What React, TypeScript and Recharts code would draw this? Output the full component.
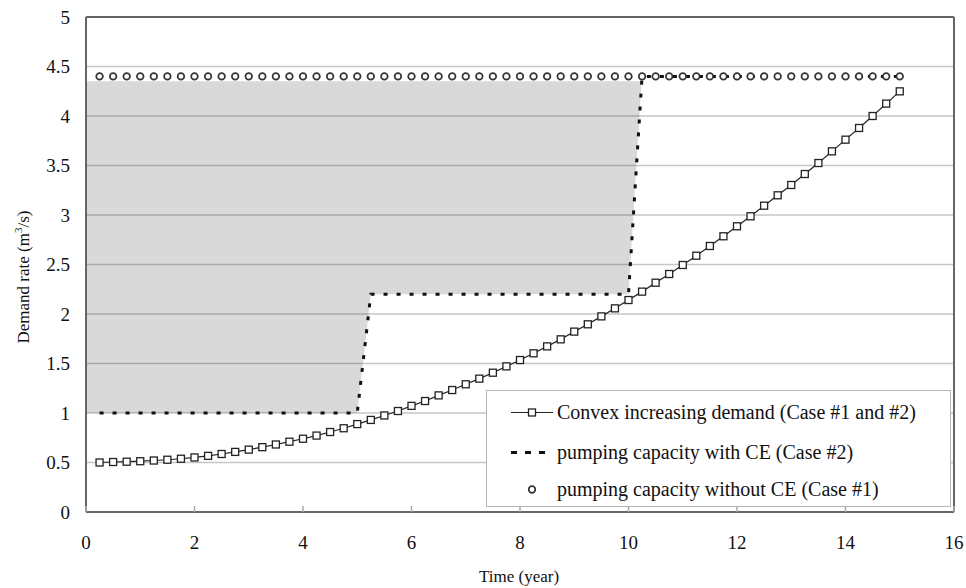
import { ComposedChart, Line, Area, XAxis, YAxis, CartesianGrid, ReferenceLine } from "recharts";

// demand curve, read every 0.25 year
const years = [
  0.25, 0.5, 0.75, 1, 1.25, 1.5, 1.75, 2, 2.25, 2.5, 2.75, 3, 3.25, 3.5, 3.75, 4, 4.25, 4.5, 4.75, 5,
  5.25, 5.5, 5.75, 6, 6.25, 6.5, 6.75, 7, 7.25, 7.5, 7.75, 8, 8.25, 8.5, 8.75, 9, 9.25, 9.5, 9.75, 10,
  10.25, 10.5, 10.75, 11, 11.25, 11.5, 11.75, 12, 12.25, 12.5, 12.75, 13, 13.25, 13.5, 13.75, 14, 14.25, 14.5, 14.75, 15,
];
const demand = [
  0.5, 0.505, 0.508, 0.513, 0.52, 0.528, 0.538, 0.551, 0.567, 0.586, 0.607, 0.63, 0.655, 0.682, 0.71, 0.74, 0.772, 0.808, 0.846, 0.888,
  0.93, 0.975, 1.02, 1.072, 1.121, 1.178, 1.232, 1.29, 1.347, 1.407, 1.471, 1.535, 1.603, 1.673, 1.744, 1.822, 1.896, 1.976, 2.057, 2.141,
  2.226, 2.316, 2.404, 2.495, 2.589, 2.687, 2.785, 2.886, 2.987, 3.094, 3.199, 3.303, 3.414, 3.525, 3.643, 3.761, 3.879, 4.0, 4.125, 4.249,
];
const capacityNoCE = [
  4.4, 4.4, 4.4, 4.4, 4.4, 4.4, 4.4, 4.4, 4.4, 4.4, 4.4, 4.4, 4.4, 4.4, 4.4, 4.4, 4.4, 4.4, 4.4, 4.4,
  4.4, 4.4, 4.4, 4.4, 4.4, 4.4, 4.4, 4.4, 4.4, 4.4, 4.4, 4.4, 4.4, 4.4, 4.4, 4.4, 4.4, 4.4, 4.4, 4.4,
  4.4, 4.4, 4.4, 4.4, 4.4, 4.4, 4.4, 4.4, 4.4, 4.4, 4.4, 4.4, 4.4, 4.4, 4.4, 4.4, 4.4, 4.4, 4.4, 4.4,
];

// stepped capacity with CE
const ceYears = [0.25, 5, 5.25, 10, 10.25, 15];
const ceValues = [1, 1, 2.2, 2.2, 4.4, 4.4];

// grey band between the two capacities
const shadeYears = [0, 5, 5.25, 10, 10.24];
const shadeLow = [1, 1, 2.2, 2.2, 4.35];
const shadeHigh = [4.35, 4.35, 4.35, 4.35, 4.35];

const xTicks = [0, 2, 4, 6, 8, 10, 12, 14, 16];
const yTicks = [0, 0.5, 1, 1.5, 2, 2.5, 3, 3.5, 4, 4.5, 5];

const demandData = years.map((t, i) => ({ t, demand: demand[i], noCE: capacityNoCE[i] }));
const ceData = ceYears.map((t, i) => ({ t, ce: ceValues[i] }));
const shadeData = shadeYears.map((t, i) => ({ t, band: [shadeLow[i], shadeHigh[i]] }));

const FONT = '"Liberation Serif", "Times New Roman", serif';

const XTick = (props: any) => {
  const { x, y, payload } = props;
  return (
    <g>
      <line x1={x} x2={x} y1={y - 6} y2={y} stroke="#aaa" strokeWidth={1.5} />
      <text x={x} y={y + 37} textAnchor="middle" fontFamily={FONT} fontSize={19} fill="#111">
        {payload.value}
      </text>
    </g>
  );
};

const Square = (p: any) => {
  if (p.cx == null || p.cy == null) return <g key={p.index} />;
  return (
    <rect key={p.index} x={p.cx - 3.5} y={p.cy - 3.5} width={7} height={7} fill="#fff" stroke="#222" strokeWidth={1.3} />
  );
};

export default function App() {
  return (
    <div style={{ position: "absolute", left: 0, top: 0, width: 966, height: 588, background: "#fff", fontFamily: FONT }}>
      <ComposedChart width={966} height={588} margin={{ top: 17, right: 12, bottom: 0, left: 0 }}>
        <CartesianGrid vertical={false} stroke="#c6c6c6" strokeWidth={1.5} />
        <XAxis
          type="number"
          dataKey="t"
          domain={[0, 16]}
          ticks={xTicks}
          height={76}
          tickSize={0}
          tickMargin={0}
          tick={<XTick />}
          axisLine={{ stroke: "#666", strokeWidth: 2 }}
          allowDataOverflow
        />
        <YAxis
          type="number"
          domain={[0, 5]}
          ticks={yTicks}
          width={86}
          tickSize={0}
          tickMargin={16}
          tickLine={false}
          tick={{ fontFamily: FONT, fontSize: 19, fill: "#111" }}
          axisLine={{ stroke: "#666", strokeWidth: 2 }}
        />
        <Area
          data={shadeData}
          dataKey="band"
          type="linear"
          stroke="none"
          fill="#000"
          fillOpacity={0.15}
          isAnimationActive={false}
        />
        <ReferenceLine y={5} stroke="#666" strokeWidth={2} />
        <ReferenceLine x={16} stroke="#666" strokeWidth={2} />
        <Line
          data={ceData}
          dataKey="ce"
          type="linear"
          stroke="#111"
          strokeWidth={3}
          strokeDasharray="4 9"
          dot={false}
          isAnimationActive={false}
        />
        <Line
          data={demandData}
          dataKey="noCE"
          type="linear"
          stroke="none"
          dot={{ r: 3.3, fill: "#fff", stroke: "#333", strokeWidth: 1.7 }}
          isAnimationActive={false}
        />
        <Line
          data={demandData}
          dataKey="demand"
          type="linear"
          stroke="#222"
          strokeWidth={1.2}
          dot={Square}
          isAnimationActive={false}
        />
      </ComposedChart>

      <div
        style={{
          position: "absolute",
          left: 23,
          top: 277,
          transform: "translate(-50%, -50%) rotate(-90deg)",
          whiteSpace: "nowrap",
          fontSize: 17,
          color: "#111",
        }}
      >
        Demand rate (m<sup style={{ fontSize: 11 }}>3</sup>/s)
      </div>
      <div
        style={{
          position: "absolute",
          left: 519,
          top: 577,
          transform: "translate(-50%, -50%)",
          whiteSpace: "nowrap",
          fontSize: 17,
          color: "#111",
        }}
      >
        Time (year)
      </div>

      <div
        style={{
          position: "absolute",
          left: 486,
          top: 390,
          width: 465,
          height: 117,
          boxSizing: "border-box",
          border: "1.5px solid #b5b5b5",
          background: "#fff",
          fontSize: 20,
          color: "#111",
        }}
      >
        {[
          { label: "Convex increasing demand (Case #1 and #2)", kind: "square", top: 21 },
          { label: "pumping capacity with CE (Case #2)", kind: "dash", top: 61 },
          { label: "pumping capacity without CE (Case #1)", kind: "circle", top: 98 },
        ].map((it) => (
          <div key={it.label} style={{ position: "absolute", left: 22, top: it.top, transform: "translateY(-50%)", display: "flex", alignItems: "center", whiteSpace: "nowrap" }}>
            <svg width={46} height={12} style={{ marginRight: 2 }}>
              {it.kind === "square" && (
                <g>
                  <line x1={2} x2={44} y1={6} y2={6} stroke="#222" strokeWidth={1.2} />
                  <rect x={19.5} y={2.5} width={7} height={7} fill="#fff" stroke="#222" strokeWidth={1.3} />
                </g>
              )}
              {it.kind === "dash" && (
                <line x1={2} x2={44} y1={6} y2={6} stroke="#111" strokeWidth={3} strokeDasharray="6 8" />
              )}
              {it.kind === "circle" && <circle cx={23} cy={6} r={3.3} fill="#fff" stroke="#333" strokeWidth={1.7} />}
            </svg>
            <span>{it.label}</span>
          </div>
        ))}
      </div>
    </div>
  );
}
